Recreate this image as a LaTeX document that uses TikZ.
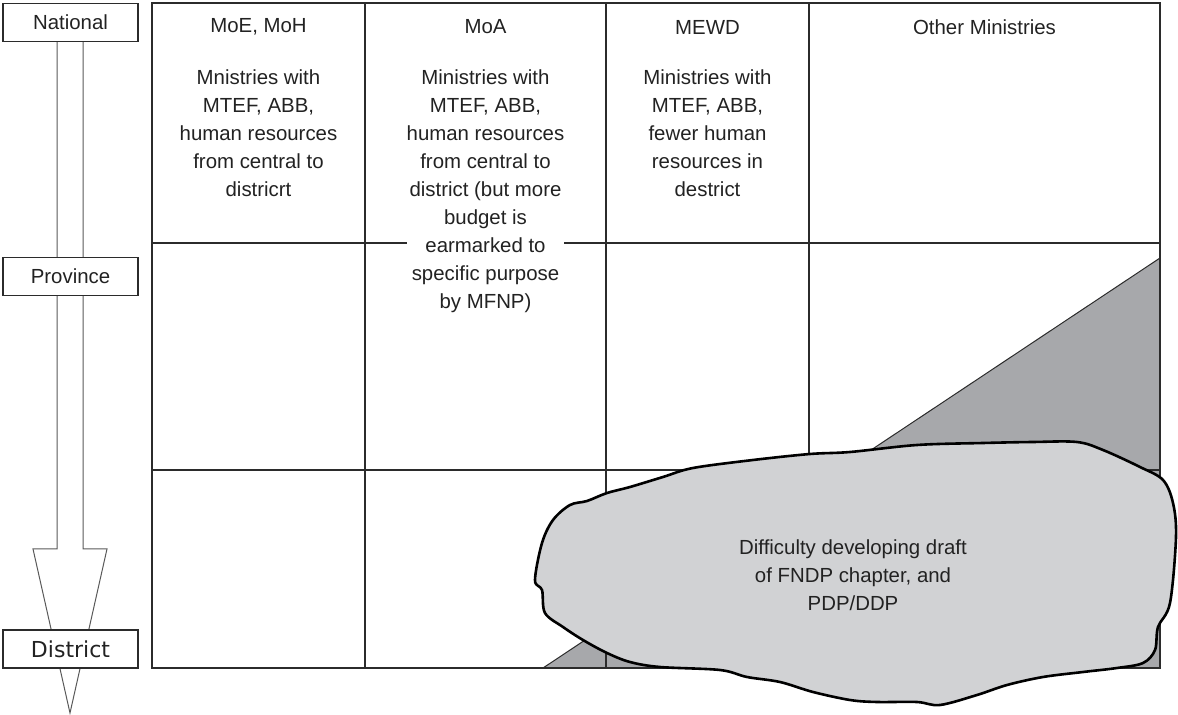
\documentclass[tikz,border=0pt]{standalone}
\usepackage{fontspec}
\setmainfont{Liberation Sans}
\newfontfamily\distfont{DejaVu Sans}
\usetikzlibrary{positioning}
\definecolor{blobgray}{HTML}{D1D2D4}
\definecolor{wedgegray}{HTML}{A7A8AB}
\definecolor{linegray}{HTML}{2B2B2B}
\definecolor{textgray}{HTML}{222222}

\tikzset{
  levelbox/.style={draw=linegray, line width=0.7pt, fill=white, minimum width=67.5pt,
    minimum height=19pt, inner sep=0pt, text=textgray, font=\fontsize{10.2}{14}\selectfont},
  hdrtext/.style={text=textgray, inner sep=0pt, font=\fontsize{10.2}{14}\selectfont},
  celltext/.style={align=center, anchor=north, fill=white, inner sep=0pt, text=textgray,
    font=\fontsize{10.2}{14}\selectfont},
  gridline/.style={draw=linegray, line width=0.75pt},
  arrowline/.style={draw=black!65, line width=0.5pt},
  blobshape/.style={draw=black, line width=1.3pt, fill=blobgray, line join=round},
}

\begin{document}
\begin{tikzpicture}[x=0.5pt, y=-0.5pt]
  \useasboundingbox (0,0) rectangle (1178,715);

  % level arrow on the left
  \coordinate (tip) at (70,713);
  \draw[arrowline] (57,42) -- (57,549) -- (33,549) -- (tip) -- (107,549) -- (83,549) -- (83,42);
  \node (national) [levelbox] at (70.5,22.5) {National};
  \node (province) [levelbox] at (70.5,276.5) {Province};
  \node (district) [levelbox, font=\distfont\fontsize{11}{14}\selectfont] at (70.5,649) {District};

  % shaded wedge
  \fill[wedgegray] (543,668) -- (1160,258) -- (1160,668) -- cycle;
  \draw[linegray, line width=0.5pt] (543,668) -- (1160,258);

  % grid
  \draw[gridline] (152,3) rectangle (1160,668);
  \foreach \xx in {365,606,809}
    \draw[gridline] (\xx,3) -- (\xx,668);
  \foreach \yy in {243,470}
    \draw[gridline] (152,\yy) -- (1160,\yy);

  % column headers
  \node (hdrMoE) [hdrtext] at (258.5,27) {MoE, MoH};
  \node (hdrMoA) [hdrtext] at (485.5,27) {MoA};
  \node (hdrMEWD) [hdrtext] at (707.5,27) {MEWD};
  \node (hdrOther) [hdrtext] at (984.5,27) {Other Ministries};

  % cell texts
  \node (txtMoE) [celltext] at (258.5,69)
    {Mnistries with\\MTEF, ABB,\\human resources\\from central to\\districrt};
  \node (txtMoA) [celltext] at (485.5,69)
    {Ministries with\\MTEF, ABB,\\human resources\\from central to\\district (but more\\budget is\\earmarked to\\specific purpose\\by MFNP)};
  \node (txtMEWD) [celltext] at (707.5,69)
    {Ministries with\\MTEF, ABB,\\fewer human\\resources in\\destrict};

  % difficulty blob
  \draw[blobshape] plot[smooth cycle, tension=0.55] coordinates {
    (850,452) (810,454) (753,460) (693,468) (663,477) (630,487) (607,493) (587,501)
    (570,505) (553,520) (542,543) (535,580) (542,590) (545,613) (563,627) (583,640)
    (607,653) (630,662) (660,667) (720,670) (747,677) (780,682) (813,692) (850,700)
    (877,702) (917,702) (940,705) (977,695) (1007,685) (1043,677) (1083,672) (1117,668)
    (1143,663) (1155,650) (1158,627) (1170,603) (1176,537) (1173,503) (1163,480)
    (1140,467) (1103,450) (1077,442) (1033,442) (983,443) (917,445)};
  \node (blobtext) [align=center, text=textgray, inner sep=0pt, font=\fontsize{10.2}{14}\selectfont]
    at (853,575) {Difficulty developing draft\\of FNDP chapter, and\\PDP/DDP};
\end{tikzpicture}
\end{document}
